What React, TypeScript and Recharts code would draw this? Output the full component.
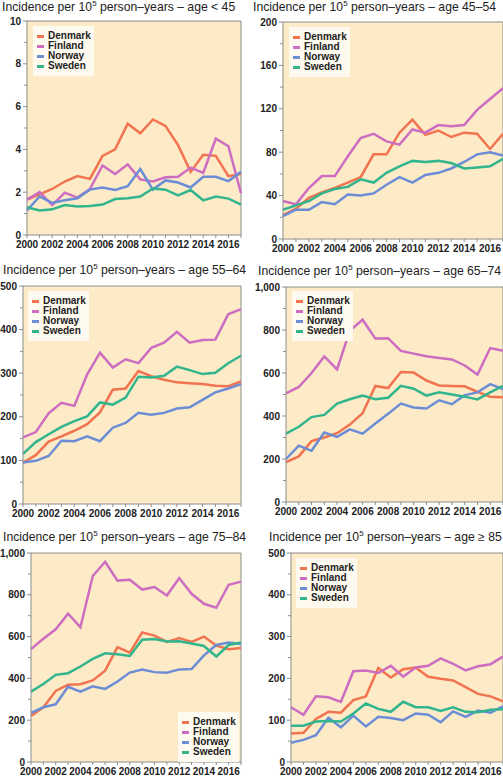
import React from 'react';
import { LineChart, Line, XAxis, YAxis, CartesianGrid, ReferenceLine, Legend } from 'recharts';

const years = [2000, 2001, 2002, 2003, 2004, 2005, 2006, 2007, 2008, 2009, 2010, 2011, 2012, 2013, 2014, 2015, 2016, 2017];
const yearTicks = years;

const countries = ['Denmark', 'Finland', 'Norway', 'Sweden'];
const colors: Record<string, string> = {
  Denmark: '#f2734f',
  Finland: '#cd6dc1',
  Norway: '#6c8dd6',
  Sweden: '#32b48c',
};

// age < 45
const denmarkUnder45 = [1.65, 1.9, 2.15, 2.5, 2.75, 2.62, 3.7, 4.0, 5.2, 4.75, 5.4, 5.1, 4.2, 2.95, 3.75, 3.7, 2.75, 2.85];
const finlandUnder45 = [1.65, 2.0, 1.4, 1.98, 1.75, 2.15, 3.25, 2.85, 3.3, 2.6, 2.5, 2.7, 2.72, 3.15, 2.9, 4.5, 4.15, 1.95];
const norwayUnder45 = [1.15, 1.8, 1.5, 1.62, 1.72, 2.12, 2.22, 2.1, 2.28, 3.08, 2.12, 2.55, 2.45, 2.22, 2.72, 2.72, 2.52, 2.95];
const swedenUnder45 = [1.3, 1.15, 1.2, 1.4, 1.33, 1.36, 1.42, 1.68, 1.72, 1.8, 2.17, 2.12, 1.85, 2.1, 1.62, 1.8, 1.7, 1.42];

// age 45-54
const denmark45 = [22, 28, 38, 43, 47, 52, 57, 78, 78, 98, 110, 96, 100, 94, 98, 97, 83, 97];
const finland45 = [35, 32, 47, 58, 58, 76, 93, 97, 90, 87, 101, 98, 105, 104, 105, 119, 129, 139];
const norway45 = [21, 27, 27, 34, 32, 41, 40, 42, 50, 57, 52, 59, 61, 65, 71, 78, 80, 77];
const sweden45 = [27, 31, 35, 42, 46, 48, 55, 52, 61, 67, 72, 71, 72, 70, 65, 66, 67, 74];

// age 55-64
const denmark55 = [95, 112, 143, 155, 168, 183, 210, 262, 265, 305, 293, 285, 279, 277, 275, 271, 270, 281];
const finland55 = [153, 165, 208, 232, 225, 297, 347, 313, 332, 323, 358, 370, 395, 370, 376, 377, 435, 447];
const norway55 = [95, 99, 110, 145, 144, 155, 144, 175, 186, 209, 205, 209, 219, 222, 239, 256, 265, 275];
const sweden55 = [115, 142, 160, 177, 190, 201, 233, 228, 244, 292, 290, 294, 315, 307, 298, 301, 323, 340];

// age 65-74
const denmark65 = [185, 212, 283, 300, 320, 360, 413, 540, 530, 605, 602, 565, 542, 540, 538, 512, 490, 487];
const finland65 = [505, 535, 600, 677, 617, 797, 848, 760, 762, 703, 690, 678, 670, 663, 635, 593, 716, 703];
const norway65 = [200, 262, 238, 323, 303, 338, 318, 365, 410, 458, 440, 435, 473, 455, 497, 510, 548, 525];
const sweden65 = [318, 350, 395, 405, 458, 478, 495, 478, 485, 540, 527, 495, 510, 500, 490, 477, 510, 540];

// age 75-84
const denmark75 = [220, 262, 340, 370, 372, 390, 437, 550, 523, 620, 605, 575, 593, 575, 600, 557, 540, 545];
const finland75 = [540, 590, 635, 710, 645, 890, 958, 868, 872, 825, 837, 797, 880, 805, 757, 738, 848, 863];
const norway75 = [235, 262, 276, 360, 337, 362, 350, 385, 428, 442, 430, 427, 443, 445, 510, 560, 572, 565];
const sweden75 = [337, 373, 417, 425, 457, 493, 520, 515, 507, 585, 588, 577, 578, 567, 555, 505, 560, 572];

// age >= 85
const denmark85 = [68, 70, 103, 120, 118, 148, 157, 225, 202, 222, 226, 204, 199, 195, 179, 163, 157, 145];
const finland85 = [131, 113, 157, 155, 144, 217, 219, 213, 230, 204, 226, 230, 248, 235, 219, 229, 234, 252];
const norway85 = [46, 53, 64, 106, 83, 111, 85, 108, 105, 100, 116, 113, 95, 121, 108, 123, 118, 133];
const sweden85 = [87, 87, 97, 98, 97, 116, 140, 127, 120, 144, 131, 131, 122, 131, 120, 119, 125, 126];

const buildRows = (dk: number[], fi: number[], no: number[], se: number[]) =>
  years.map((year, i) => ({ year, Denmark: dk[i], Finland: fi[i], Norway: no[i], Sweden: se[i] }));

const range = (max: number, step: number) => {
  const out: number[] = [];
  for (let v = 0; v <= max + 1e-9; v += step) out.push(+v.toFixed(4));
  return out;
};

const panels = [
  {
    age: '< 45', rows: buildRows(denmarkUnder45, finlandUnder45, norwayUnder45, swedenUnder45),
    yMax: 10, minor: 1, major: 2,
    left: 0, plot: { x0: 27, y0: 21, x1: 241, y1: 235 }, title: { x: 2, y: 7 }, legend: { x: 33, y: 26 },
  },
  {
    age: '45–54', rows: buildRows(denmark45, finland45, norway45, sweden45),
    yMax: 200, minor: 20, major: 40,
    left: 252, plot: { x0: 283, y0: 22, x1: 503, y1: 239 }, title: { x: 253, y: 7 }, legend: { x: 289, y: 27 },
  },
  {
    age: '55–64', rows: buildRows(denmark55, finland55, norway55, sweden55),
    yMax: 500, minor: 50, major: 100,
    left: 0, plot: { x0: 23, y0: 286, x1: 241, y1: 504 }, title: { x: 3, y: 270 }, legend: { x: 28, y: 291 },
  },
  {
    age: '65–74', rows: buildRows(denmark65, finland65, norway65, sweden65),
    yMax: 1000, minor: 100, major: 200,
    left: 252, plot: { x0: 286, y0: 287, x1: 503, y1: 502 }, title: { x: 258, y: 271 }, legend: { x: 292, y: 291 },
  },
  {
    age: '75–84', rows: buildRows(denmark75, finland75, norway75, sweden75),
    yMax: 1000, minor: 100, major: 200,
    left: 0, plot: { x0: 31, y0: 553, x1: 241, y1: 762 }, title: { x: 3, y: 537 }, legend: { x: 178, y: 712 },
  },
  {
    age: '≥ 85', rows: buildRows(denmark85, finland85, norway85, sweden85),
    yMax: 500, minor: 50, major: 100,
    left: 252, plot: { x0: 291, y0: 553, x1: 503, y1: 762 }, title: { x: 269, y: 537 }, legend: { x: 296, y: 558 },
  },
];

const font = '"Liberation Sans", Arial, sans-serif';
const axisGray = '#8c8c8c';

const makeYTick = (major: number) => (props: any) => {
  const { x, y, payload } = props;
  const isMajor = Math.abs(payload.value % major) < 1e-6;
  return (
    <g>
      <line x1={x - (isMajor ? 4 : 3)} x2={x} y1={y} y2={y} stroke={axisGray} />
      {isMajor && (
        <text x={x - 6} y={y} dy={3.5} textAnchor="end" fontSize={10} fontWeight="bold" fill="#222" fontFamily={font}>
          {payload.value.toLocaleString('en-US')}
        </text>
      )}
    </g>
  );
};

const XTick = (props: any) => {
  const { x, y, payload } = props;
  return (
    <g>
      <line x1={x} x2={x} y1={y} y2={y + 3} stroke={axisGray} />
      {payload.value % 2 === 0 && (
        <text x={x} y={y + 13} textAnchor="middle" fontSize={10} fontWeight="bold" fill="#222" fontFamily={font}>
          {payload.value}
        </text>
      )}
    </g>
  );
};

const LegendBox = ({ payload }: any) => (
  <div
    style={{
      background: '#fffaf0',
      padding: '5px 3px 5px 4px',
      fontFamily: font,
      fontSize: 10,
      fontWeight: 'bold',
      color: '#222',
      lineHeight: '10px',
    }}
  >
    {(payload || []).map((entry: any) => (
      <div key={entry.value} style={{ display: 'flex', alignItems: 'center', height: 10 }}>
        <span style={{ width: 7, height: 3, background: entry.color, marginRight: 4, display: 'inline-block' }} />
        {entry.value}
      </div>
    ))}
  </div>
);

function Panel({ p }: { p: (typeof panels)[number] }) {
  const top = p.plot.y0 - 10;
  const width = 252 - (p.left === 0 ? 0 : 1);
  const height = p.plot.y1 - top + 16;
  const margin = { top: p.plot.y0 - top, left: 0, right: p.left + width - p.plot.x1, bottom: 0 };
  const yAxisWidth = p.plot.x0 - p.left;
  const xAxisHeight = top + height - p.plot.y1;

  return (
    <>
      <div
        style={{
          position: 'absolute',
          left: p.title.x,
          top: p.title.y - 8,
          fontFamily: font,
          fontSize: 12.2,
          lineHeight: '16px',
          color: '#222',
          whiteSpace: 'nowrap',
        }}
      >
        Incidence per 10<span style={{ fontSize: 8, position: 'relative', top: -5 }}>5</span> person–years – age {p.age}
      </div>
      <div style={{ position: 'absolute', left: p.left, top }}>
        <LineChart width={width} height={height} data={p.rows} margin={margin}>
          <CartesianGrid fill="#fdebc8" stroke="none" horizontal={false} vertical={false} />
          <XAxis
            dataKey="year"
            type="number"
            domain={[2000, 2017]}
            ticks={yearTicks}
            interval={0}
            height={xAxisHeight}
            tickSize={0}
            tickMargin={0}
            tickLine={false}
            stroke={axisGray}
            tick={XTick}
          />
          <YAxis
            type="number"
            domain={[0, p.yMax]}
            ticks={range(p.yMax, p.minor)}
            interval={0}
            width={yAxisWidth}
            tickSize={0}
            tickMargin={0}
            tickLine={false}
            stroke={axisGray}
            tick={makeYTick(p.major)}
          />
          <ReferenceLine y={p.yMax} stroke={axisGray} />
          <ReferenceLine x={2017} stroke={axisGray} />
          <Legend
            layout="vertical"
            align="center"
            verticalAlign="middle"
            content={<LegendBox />}
            wrapperStyle={{ left: p.legend.x - p.left, top: p.legend.y - top, width: 'auto', height: 'auto' }}
          />
          {countries.map((c) => (
            <Line
              key={c}
              type="linear"
              dataKey={c}
              name={c}
              stroke={colors[c]}
              strokeWidth={2.5}
              dot={false}
              isAnimationActive={false}
            />
          ))}
        </LineChart>
      </div>
    </>
  );
}

export default function App() {
  return (
    <div
      style={{
        position: 'absolute',
        left: 0,
        top: 0,
        width: 503,
        height: 776,
        overflow: 'hidden',
        background: '#fff',
      }}
    >
      {panels.map((p) => (
        <Panel key={p.age} p={p} />
      ))}
    </div>
  );
}
